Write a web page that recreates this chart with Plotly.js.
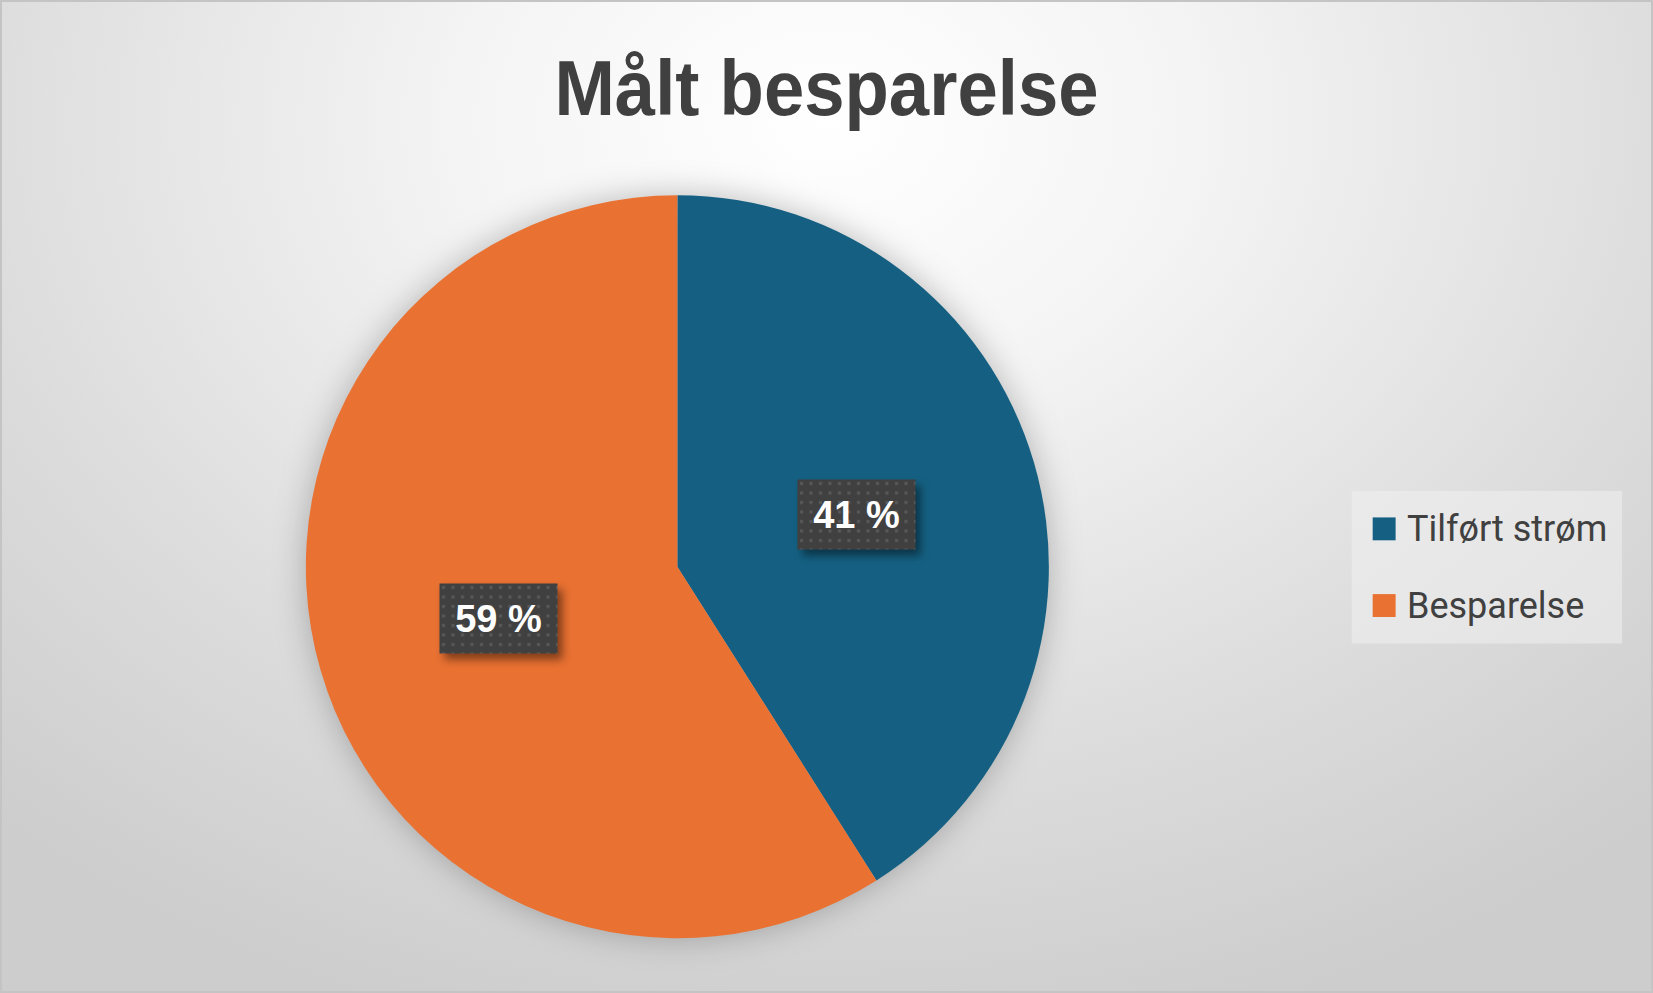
<!DOCTYPE html>
<html>
<head>
<meta charset="utf-8">
<script src="https://cdn.plot.ly/plotly-3.0.1.min.js"></script>
<style>
	html, body { margin: 0; padding: 0; }
	#chart {
		width: 1653px; height: 993px; box-sizing: border-box;
		border: 2px solid #c4c4c4;
		background: radial-gradient(ellipse 75% 95% at 50% 12%, #ffffff 0%, #f4f4f4 30%, #dcdcdc 70%, #cdcdcd 100%);
	}
	/* soft shadow round the pie, like the Excel original */
	#chart .pielayer { filter: drop-shadow(0 0 16px rgba(0,0,0,0.25)); }
	/* drop shadow under the data label boxes */
	#chart .annotation.lbl rect.bg { filter: drop-shadow(5px 6px 4px rgba(0,0,0,0.45)); }
	/* the original title face is condensed */
	#chart .gtitle { transform-box: fill-box; transform-origin: 50% 50%; transform: scaleX(0.93); }
</style>
</head>
<body>
<div id="chart"></div>
<script>
(function () {

	'use strict';

	// chart data
	const categories = [ 'Tilført strøm', 'Besparelse' ];
	const values = [ 41, 59 ];
	const colors = [ '#156082', '#E97132' ];
	const chartTitle = 'Målt besparelse';

	const W = 1653, H = 993;
	const px = x => x / W;
	const py = y => 1 - y / H;

	// pie placement (pixels)
	const cx = 677, cy = 567, r = 373;

	const total = values.reduce( ( a, b ) => a + b, 0 );

	const pie = {
		type: 'pie',
		labels: categories,
		values: values,
		sort: false,
		direction: 'clockwise',
		rotation: 0,
		textinfo: 'none',
		hoverinfo: 'label+percent',
		marker: { colors: colors, line: { width: 0 } },
		domain: { x: [ px( cx - r ), px( cx + r ) ], y: [ py( cy + r ), py( cy - r ) ] },
		showlegend: false
	};

	/*
	data labels: dark boxes at half radius on each slice's mid angle
	*/
	const annotations = [];
	let cum = 0;
	values.forEach( ( v ) => {
		const f = v / total;
		const a = 2 * Math.PI * ( cum + f / 2 );
		cum += f;
		annotations.push({
			x: px( cx + 0.5 * r * Math.sin( a ) ),
			y: py( cy - 0.5 * r * Math.cos( a ) ),
			xref: 'paper', yref: 'paper',
			text: '<b>' + Math.round( f * 100 ) + ' %</b>',
			showarrow: false,
			font: { family: 'Liberation Sans, Arial, sans-serif', size: 38, color: '#ffffff' },
			bgcolor: '#404040',
			borderpad: 0,
			width: 117, height: 69,
			xanchor: 'center', yanchor: 'middle'
		});
	});

	/*
	legend (drawn by hand so the spacing matches)
	*/
	const shapes = [{
		type: 'rect', xref: 'paper', yref: 'paper',
		x0: px( 1353 ), x1: px( 1624 ), y0: py( 644 ), y1: py( 491 ),
		fillcolor: 'rgba(240,240,240,0.55)', line: { width: 0 }, layer: 'below'
	}];
	const rowY = [ 529, 606 ];
	categories.forEach( ( c, i ) => {
		shapes.push({
			type: 'rect', xref: 'paper', yref: 'paper',
			x0: px( 1374 ), x1: px( 1397 ),
			y0: py( rowY[i] + 11.5 ), y1: py( rowY[i] - 11.5 ),
			fillcolor: colors[i], line: { width: 0 }
		});
		annotations.push({
			x: px( 1406 ), y: py( rowY[i] ),
			xref: 'paper', yref: 'paper',
			text: c, showarrow: false,
			xanchor: 'left', yanchor: 'middle',
			font: { family: 'Roboto, sans-serif', size: 36, color: '#404040' }
		});
	});

	const layout = {
		width: W - 4, height: H - 4,
		margin: { l: 0, r: 0, t: 0, b: 0 },
		paper_bgcolor: 'rgba(0,0,0,0)',
		plot_bgcolor: 'rgba(0,0,0,0)',
		title: {
			text: '<b>' + chartTitle + '</b>',
			x: 0.5, xanchor: 'center',
			y: py( 86 ), yanchor: 'middle', yref: 'paper',
			font: { family: 'Liberation Sans, Arial, sans-serif', size: 78, color: '#404040' }
		},
		annotations,
		shapes,
		showlegend: false
	};

	Plotly.newPlot( 'chart', [ pie ], layout, { displayModeBar: false, responsive: false } )
		.then( () => {
			const svg = document.querySelector( '#chart .main-svg' );
			const ns = 'http://www.w3.org/2000/svg';

			// dotted fill of the label boxes
			let defs = svg.querySelector( 'defs' );
			if ( !defs ) { defs = document.createElementNS( ns, 'defs' ); svg.prepend( defs ); }
			const pat = document.createElementNS( ns, 'pattern' );
			pat.setAttribute( 'id', 'lblDots' );
			pat.setAttribute( 'patternUnits', 'userSpaceOnUse' );
			pat.setAttribute( 'width', '9.5' );
			pat.setAttribute( 'height', '9.5' );
			pat.innerHTML = '<rect width="9.5" height="9.5" fill="#404040"/>' +
				'<rect x="3" y="3" width="3" height="3" fill="#5a5a5a"/>';
			defs.appendChild( pat );

			// tag the label annotations so the CSS shadow only hits them
			document.querySelectorAll( '#chart .annotation' ).forEach( ( g, i ) => {
				if ( i < values.length ) {
					g.classList.add( 'lbl' );
					g.querySelector( 'rect.bg' ).style.fill = 'url(#lblDots)';
				}
			});
		});

})();
</script>
</body>
</html>
